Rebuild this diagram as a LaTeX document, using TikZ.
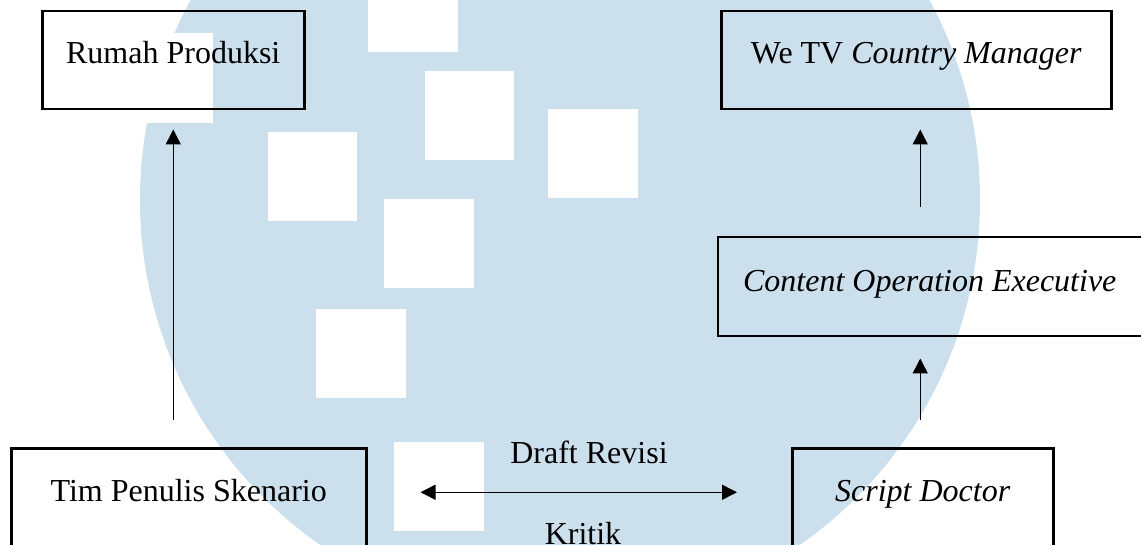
\documentclass[tikz,border=0pt]{standalone}
\usepackage{fontspec}
\setmainfont{Liberation Serif}
\usetikzlibrary{arrows.meta,calc}
\definecolor{wmblue}{RGB}{204,223,237}
\begin{document}
\begin{tikzpicture}[x=1pt,y=-1pt,
  box/.style={draw, line width=2.5pt, inner xsep=0pt, inner ysep=0pt,
    font=\fontsize{32}{38}\selectfont, anchor=north west},
  arr/.style={line width=1.5pt, -{Triangle[length=15pt,width=15pt]}},
  arrtwo/.style={line width=1.5pt, {Triangle[length=15pt,width=15pt]}-{Triangle[length=15pt,width=15pt]}},
  lbl/.style={font=\fontsize{32}{38}\selectfont, inner sep=0pt, anchor=base},
  wsq/.style={fill=white}]
\clip (0,0) rectangle (1141,545);
% watermark
\fill[wmblue] (560,200) circle[radius=420pt];
\fill[wsq] (368,-5) rectangle (458,52);
\fill[wsq] (425,71) rectangle (514,160);
\fill[wsq] (548,109) rectangle (638,198);
\fill[wsq] (268,132) rectangle (357,221);
\fill[wsq] (384,199) rectangle (474,288);
\fill[wsq] (316,309) rectangle (406,398);
\fill[wsq] (394,442) rectangle (484,531);
\fill[wsq] (123,33) rectangle (213,123);
% boxes
\node[box, minimum width=262pt, text height=52.5pt, text depth=45.5pt] (Rumah) at (41,10) {Rumah Produksi};
\node[box, minimum width=390pt, text height=52pt, text depth=46pt] (WeTV) at (720,10) {We TV \textit{Country Manager}};
\node[box, minimum width=424pt, text height=54.5pt, text depth=44.5pt] (COE) at (716.5,236) {\textit{Content Operation Executive}};
\node[box, minimum width=355pt, text height=53pt, text depth=80pt] (Tim) at (10,447) {Tim Penulis Skenario};
\node[box, minimum width=261pt, text height=53pt, text depth=80pt] (SD) at (791,447) {\textit{Script Doctor}};
% connectors
\draw[arr] ($(Tim.north -| Rumah.south)+(0,-27)$) -- ($(Rumah.south)+(0,19)$);
\draw[arr] ($(SD.north)+(-2.5,-27)$) -- ($(COE.south -| SD.north)+(-2.5,21)$);
\draw[arr] ($(COE.north -| SD.north)+(-2.5,-29)$) -- ($(WeTV.south -| SD.north)+(-2.5,19)$);
\draw[arrtwo] ($(Tim.base east)+(53,-9)$) -- ($(SD.base west)+(-54,-9)$);
\node[lbl] (draft) at (589,463) {Draft Revisi};
\node[lbl] (kritik) at (583,544) {Kritik};
\end{tikzpicture}
\end{document}
